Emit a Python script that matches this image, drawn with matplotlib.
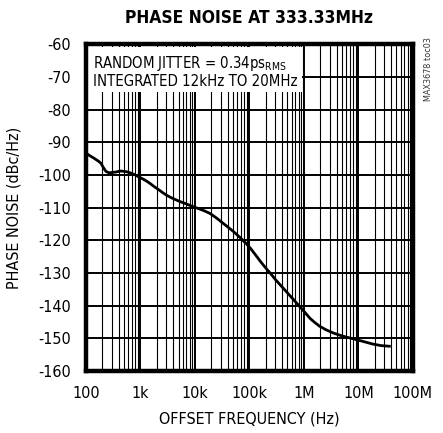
import numpy as np
import matplotlib.pyplot as plt
from matplotlib.patches import Rectangle
from matplotlib.ticker import LogLocator, NullFormatter

plt.rcParams['font.family'] = ['DejaVu Sans']
plt.rcParams['font.stretch'] = 'condensed'
plt.rcParams['mathtext.default'] = 'regular'

# Данные кривой фазового шума
freq = [100, 110, 120, 135, 150, 170, 188, 210, 232, 260, 286, 320, 360, 400,
        437, 490, 550, 600, 660, 730, 800, 930, 1100, 1300, 1500, 1800, 2200,
        2600, 3100, 3600, 4200, 5400, 6800, 8300, 11600, 15000, 19000, 25000,
        33000, 50000, 68000, 85000, 104000, 130000, 160000, 200000, 240000,
        300000, 400000, 560000, 700000, 920000, 1.1e6, 1.3e6, 1.6e6, 1.95e6,
        2.5e6, 3.4e6, 4.5e6, 6e6, 9.3e6, 14e6, 18e6, 26e6, 37e6]
noise = [-93.3, -93.8, -94.2, -94.7, -95.2, -95.8, -96.4, -97.8, -98.9, -99.3,
         -99.3, -99.2, -99.1, -98.9, -98.8, -98.9, -99.0, -99.2, -99.4, -99.7,
         -100.0, -100.6, -101.2, -101.9, -102.6, -103.6, -104.6, -105.5, -106.3,
         -106.9, -107.4, -108.2, -108.8, -109.4, -110.3, -111.0, -111.8, -113.2,
         -114.8, -117.2, -119.2, -120.8, -122.4, -124.5, -126.5, -128.5, -130.0,
         -132.0, -134.3, -137.0, -138.8, -141.0, -142.5, -143.9, -145.2, -146.3,
         -147.3, -148.3, -149.0, -149.6, -150.4, -151.2, -151.7, -152.2, -152.4]

x_ticks = [1e2, 1e3, 1e4, 1e5, 1e6, 1e7, 1e8]
x_labels = ['100', '1k', '10k', '100k', '1M', '10M', '100M']
y_ticks = list(range(-160, -59, 10))

fig = plt.figure(figsize=(4.43, 4.33), dpi=100)
ax = fig.add_axes([0.194, 0.143, 0.738, 0.755])

ax.plot(freq, noise, color='black', lw=2.0, zorder=4)

ax.set_xscale('log')
ax.set_xlim(1e2, 1e8)
ax.set_ylim(-160, -60)
ax.set_xticks(x_ticks)
ax.set_xticklabels(x_labels)
ax.xaxis.set_minor_locator(LogLocator(base=10, subs=np.arange(2, 10), numticks=100))
ax.xaxis.set_minor_formatter(NullFormatter())
ax.set_yticks(y_ticks)
ax.set_yticklabels([str(v) for v in y_ticks])
ax.tick_params(which='both', length=0, labelsize=11.5, pad=11)

# Сетка
ax.grid(True, which='major', color='black', lw=1.4)
ax.grid(True, which='minor', axis='x', color='black', lw=0.8)
ax.set_axisbelow(True)
for s in ax.spines.values():
    s.set_linewidth(3.2)
    s.set_zorder(6)

# Белая плашка под текстом
ax.add_patch(Rectangle((0, 0.855), 0.66, 0.135, transform=ax.transAxes,
                       facecolor='white', edgecolor='none', zorder=3))
ax.text(0.022, 0.942, 'RANDOM JITTER = 0.34ps$_{RMS}$', transform=ax.transAxes,
        fontsize=10.7, va='center', ha='left', zorder=5)
ax.text(0.022, 0.887, 'INTEGRATED 12kHz TO 20MHz', transform=ax.transAxes,
        fontsize=10.7, va='center', ha='left', zorder=5)

ax.set_xlabel('OFFSET FREQUENCY (Hz)', fontsize=11.5)
ax.set_ylabel('PHASE NOISE (dBc/Hz)', fontsize=11.5)
ax.xaxis.set_label_coords(0.5, -0.125)
ax.yaxis.set_label_coords(-0.196, 0.5)
fig.text(0.562, 0.958, 'PHASE NOISE AT 333.33MHz', fontsize=12.5,
         fontweight='bold', ha='center', va='center')
fig.text(0.967, 0.84, 'MAX3678 toc03', fontsize=6.5, rotation=90,
         ha='center', va='center', color='#333333')

fig.savefig('out.png', dpi=100)
